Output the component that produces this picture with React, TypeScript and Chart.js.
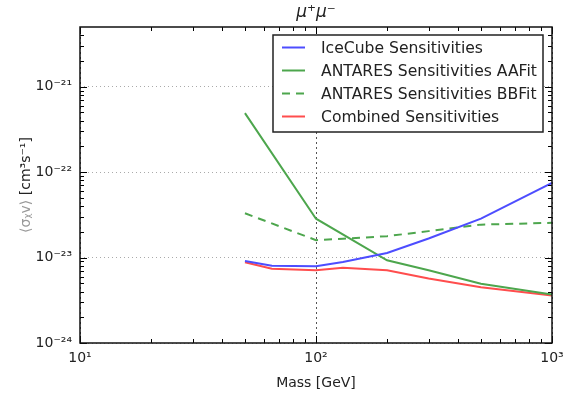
import React, { useEffect, useRef } from "react";
import { Chart, registerables } from "chart.js";

Chart.register(...registerables);

const MASSES = [50, 65, 100, 130, 200, 300, 500, 1000];
const ICECUBE = [9.1e-24, 8.0e-24, 7.9e-24, 8.9e-24, 1.13e-23, 1.67e-23, 2.86e-23, 7.5e-23];
const AA_MASSES = [50, 100, 200, 300, 500, 1000];
const ANTARES_AA = [4.9e-22, 2.85e-23, 9.3e-24, 7.1e-24, 4.95e-24, 3.7e-24];
const BB_MASSES = [50, 100, 130, 200, 300, 500, 1000];
const ANTARES_BB = [3.3e-23, 1.6e-23, 1.66e-23, 1.78e-23, 2.04e-23, 2.43e-23, 2.55e-23];
const COMBINED = [8.8e-24, 7.4e-24, 7.1e-24, 7.6e-24, 7.1e-24, 5.7e-24, 4.5e-24, 3.6e-24];

const SERIES_LABELS = [
  "IceCube Sensitivities",
  "ANTARES Sensitivities AAFit",
  "ANTARES Sensitivities BBFit",
  "Combined Sensitivities",
];

const X_TICKS = [10, 100, 1000];
const X_LABELS = ["10¹", "10²", "10³"];
const Y_TICKS = [1e-24, 1e-23, 1e-22, 1e-21];
const Y_LABELS = ["10⁻²⁴", "10⁻²³", "10⁻²²", "10⁻²¹"];
const X_MIN = 10;
const X_MAX = 1000;
const Y_MIN = 1e-24;
const Y_MAX = 5e-21;

const TITLE = "μ⁺μ⁻";
const X_TITLE = "Mass [GeV]";
const Y_TITLE_MATH = "⟨σᵪv⟩";
const Y_TITLE_UNIT = " [cm³s⁻¹]";

const FONT = "'DejaVu Sans', sans-serif";
const BLUE = "rgb(77,77,255)";
const GREEN = "rgb(77,166,77)";
const RED = "rgb(255,77,77)";

const pts = (xs: number[], ys: number[]) => xs.map((x, i) => ({ x, y: ys[i] }));

function labelFor(v: number, ticks: number[], labels: string[]) {
  const i = ticks.findIndex((t) => Math.abs(Math.log10(t) - Math.log10(v)) < 1e-6);
  return i >= 0 ? labels[i] : "";
}

function minorValues(min: number, max: number) {
  const out: number[] = [];
  const e0 = Math.floor(Math.log10(min));
  const e1 = Math.ceil(Math.log10(max));
  for (let e = e0; e <= e1; e++) {
    for (let k = 2; k <= 9; k++) {
      const v = k * Math.pow(10, e);
      if (v > min * 1.0000001 && v < max * 0.9999999) out.push(v);
    }
  }
  return out;
}

const decorPlugin = {
  id: "decor",
  afterDraw(chart: any) {
    const ctx = chart.ctx;
    const { left, right, top, bottom } = chart.chartArea;
    const xs = chart.scales.x;
    const ys = chart.scales.y;
    ctx.save();
    ctx.strokeStyle = "#000";
    ctx.lineWidth = 1;
    const drawX = (v: number, len: number) => {
      const px = Math.round(xs.getPixelForValue(v)) + 0.5;
      ctx.beginPath();
      ctx.moveTo(px, bottom);
      ctx.lineTo(px, bottom - len);
      ctx.moveTo(px, top);
      ctx.lineTo(px, top + len);
      ctx.stroke();
    };
    const drawY = (v: number, len: number) => {
      const py = Math.round(ys.getPixelForValue(v)) + 0.5;
      ctx.beginPath();
      ctx.moveTo(left, py);
      ctx.lineTo(left + len, py);
      ctx.moveTo(right, py);
      ctx.lineTo(right - len, py);
      ctx.stroke();
    };
    X_TICKS.forEach((v) => drawX(v, 7));
    minorValues(X_MIN, X_MAX).forEach((v) => drawX(v, 4));
    Y_TICKS.forEach((v) => drawY(v, 7));
    minorValues(Y_MIN, Y_MAX).forEach((v) => drawY(v, 4));

    ctx.lineWidth = 1.5;
    ctx.strokeStyle = "#111";
    ctx.strokeRect(left, top, right - left, bottom - top);

    ctx.fillStyle = "#222";
    ctx.font = `italic 17px ${FONT}`;
    ctx.textAlign = "center";
    ctx.textBaseline = "middle";
    ctx.fillText(TITLE, (left + right) / 2, 13);

    ctx.font = `14px ${FONT}`;
    ctx.fillStyle = "#222";
    ctx.fillText(X_TITLE, (left + right) / 2, 383);

    ctx.save();
    ctx.translate(26, (top + bottom) / 2);
    ctx.rotate(-Math.PI / 2);
    ctx.font = `14px ${FONT}`;
    const w1 = ctx.measureText(Y_TITLE_MATH).width;
    const w2 = ctx.measureText(Y_TITLE_UNIT).width;
    const start = -(w1 + w2) / 2;
    ctx.textAlign = "left";
    ctx.fillStyle = "#999";
    ctx.fillText(Y_TITLE_MATH, start, 0);
    ctx.fillStyle = "#222";
    ctx.fillText(Y_TITLE_UNIT, start + w1, 0);
    ctx.restore();

    const lx = 273, ly = 35, lw = 270, lh = 97;
    ctx.fillStyle = "#fff";
    ctx.fillRect(lx, ly, lw, lh);
    ctx.lineWidth = 1.5;
    ctx.strokeStyle = "#222";
    ctx.strokeRect(lx, ly, lw, lh);
    ctx.font = `15.6px ${FONT}`;
    ctx.textAlign = "left";
    ctx.textBaseline = "middle";
    chart.data.datasets.forEach((ds: any, i: number) => {
      const y = 47.5 + i * 23;
      ctx.beginPath();
      ctx.strokeStyle = ds.borderColor;
      ctx.lineWidth = ds.borderWidth;
      ctx.setLineDash(ds.borderDash || []);
      ctx.moveTo(282, y);
      ctx.lineTo(305, y);
      ctx.stroke();
      ctx.setLineDash([]);
      ctx.fillStyle = "#222";
      ctx.fillText(ds.label, 321, y + 1);
    });
    ctx.restore();
  },
};

export default function App() {
  const ref = useRef<HTMLCanvasElement | null>(null);
  useEffect(() => {
    if (!ref.current) return;
    const chart = new Chart(ref.current, {
      type: "line",
      data: {
        datasets: [
          { label: SERIES_LABELS[0], data: pts(MASSES, ICECUBE), borderColor: BLUE, borderWidth: 2 },
          { label: SERIES_LABELS[1], data: pts(AA_MASSES, ANTARES_AA), borderColor: GREEN, borderWidth: 2 },
          { label: SERIES_LABELS[2], data: pts(BB_MASSES, ANTARES_BB), borderColor: GREEN, borderWidth: 2, borderDash: [8, 6] },
          { label: SERIES_LABELS[3], data: pts(MASSES, COMBINED), borderColor: RED, borderWidth: 2 },
        ] as any,
      },
      options: {
        animation: false,
        responsive: false,
        parsing: false as any,
        layout: { padding: { top: 27, right: 13, left: 0, bottom: 0 } },
        elements: { point: { radius: 0 }, line: { tension: 0, fill: false } },
        plugins: { legend: { display: false }, title: { display: false }, tooltip: { enabled: false } },
        scales: {
          x: {
            type: "logarithmic",
            min: X_MIN,
            max: X_MAX,
            afterBuildTicks: (s: any) => {
              s.ticks = X_TICKS.map((v) => ({ value: v }));
            },
            afterFit: (s: any) => {
              s.height = 50;
              s.paddingLeft = 0;
              s.paddingRight = 0;
            },
            ticks: {
              autoSkip: false,
              maxRotation: 0,
              padding: 7,
              color: "#222",
              font: { family: FONT, size: 14 },
              callback: (v: any) => labelFor(Number(v), X_TICKS, X_LABELS),
            },
            grid: { color: "#555", drawTicks: false, lineWidth: 1 },
            border: { display: false, dash: [2, 3] },
          },
          y: {
            type: "logarithmic",
            min: Y_MIN,
            max: Y_MAX,
            afterBuildTicks: (s: any) => {
              s.ticks = Y_TICKS.map((v) => ({ value: v }));
            },
            afterFit: (s: any) => {
              s.width = 80;
              s.paddingTop = 0;
              s.paddingBottom = 0;
            },
            ticks: {
              autoSkip: false,
              padding: 8,
              color: "#222",
              font: { family: FONT, size: 14 },
              callback: (v: any) => labelFor(Number(v), Y_TICKS, Y_LABELS),
            },
            grid: { color: "#aaa", drawTicks: false, lineWidth: 1 },
            border: { display: false, dash: [1, 3] },
          },
        },
      } as any,
      plugins: [decorPlugin],
    });
    return () => chart.destroy();
  }, []);
  return (
    <div style={{ position: "absolute", left: 0, top: 0, width: 565, height: 393, background: "#fff" }}>
      <canvas ref={ref} width={565} height={393} />
    </div>
  );
}
